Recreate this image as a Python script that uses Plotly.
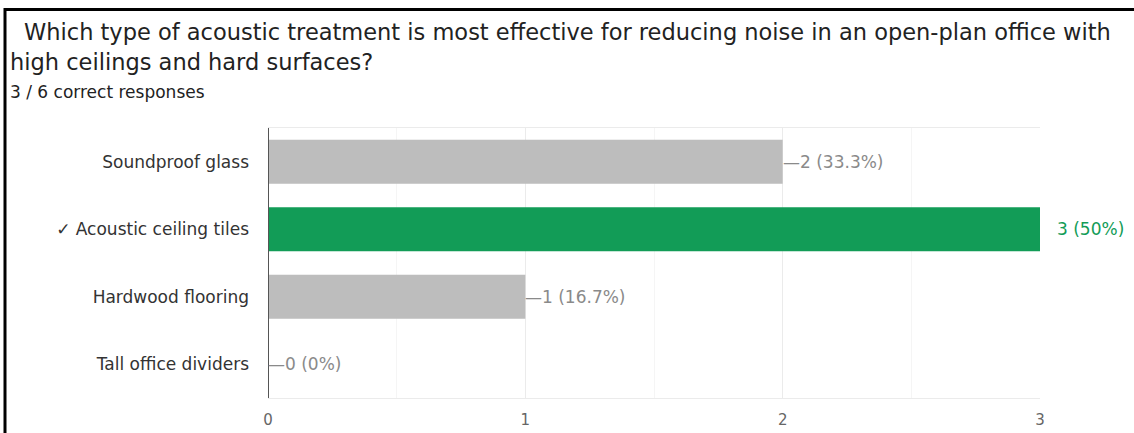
import plotly.graph_objects as go

categories = ["Soundproof glass", "✓ Acoustic ceiling tiles", "Hardwood flooring", "Tall office dividers"]
counts = [2, 3, 1, 0]
percents = ["33.3%", "50%", "16.7%", "0%"]
correct = [False, True, False, False]
x_ticks = [0, 1, 2, 3]
title_line1 = "Which type of acoustic treatment is most effective for reducing noise in an open-plan office with"
title_line2 = "high ceilings and hard surfaces?"
subtitle = "3 / 6 correct responses"

W, H = 1134, 433
L, R, T, B = 268, 94, 128, 35
pw, ph = W - L - R, H - T - B

def px(x):
    return (x - L) / pw

def py(y):
    return (H - B - y) / ph

GRAY = "#bdbdbd"
GREEN = "#129c57"
FONT = "DejaVu Sans"

fig = go.Figure()
fig.add_trace(go.Bar(
    y=categories, x=counts, orientation="h",
    marker=dict(color=[GREEN if c else GRAY for c in correct], line=dict(width=0)),
    width=0.65, hoverinfo="skip",
))

annotations = []
for cat, c, p, ok in zip(categories, counts, percents, correct):
    if ok:
        annotations.append(dict(x=c, y=cat, xref="x", yref="y", text=f"{c} ({p})",
                                showarrow=False, xanchor="left", yanchor="middle", xshift=15,
                                font=dict(family=FONT, size=17, color=GREEN)))
    else:
        annotations.append(dict(x=c, y=cat, xref="x", yref="y", text=f"—{c} ({p})",
                                showarrow=False, xanchor="left", yanchor="middle", xshift=-2,
                                font=dict(family=FONT, size=17, color="#8a8a8a")))

annotations += [
    dict(x=px(22), y=py(32), xref="paper", yref="paper", text=title_line1, showarrow=False,
         xanchor="left", yanchor="middle", font=dict(family=FONT, size=22.5, color="#222222")),
    dict(x=px(8), y=py(62), xref="paper", yref="paper", text=title_line2, showarrow=False,
         xanchor="left", yanchor="middle", font=dict(family=FONT, size=22.5, color="#222222")),
    dict(x=px(8), y=py(92), xref="paper", yref="paper", text=subtitle, showarrow=False,
         xanchor="left", yanchor="middle", font=dict(family=FONT, size=17, color="#222222")),
]

shapes = [
    dict(type="line", xref="paper", yref="paper", x0=px(4), x1=px(W), y0=py(9.5), y1=py(9.5),
         line=dict(color="black", width=3)),
    dict(type="line", xref="paper", yref="paper", x0=px(5), x1=px(5), y0=py(8), y1=py(H),
         line=dict(color="black", width=3)),
]

fig.update_layout(
    template="none",
    width=W, height=H,
    margin=dict(l=L, r=R, t=T, b=B, pad=0),
    paper_bgcolor="white", plot_bgcolor="white",
    showlegend=False,
    annotations=annotations,
    shapes=shapes,
    xaxis=dict(range=[0, 3], tickvals=x_ticks, ticktext=[str(t) for t in x_ticks],
               showgrid=True, gridcolor="#ebebeb", gridwidth=1, zeroline=False,
               showline=True, mirror=True, linecolor="#ebebeb", linewidth=1,
               minor=dict(dtick=0.5, showgrid=True, gridcolor="#f5f5f5", ticks=""),
               tickfont=dict(family=FONT, size=15, color="#666666"),
               ticks="", ticklabelstandoff=8, fixedrange=True, automargin=False),
    yaxis=dict(categoryorder="array", categoryarray=categories, autorange="reversed",
               showgrid=False, zeroline=False, showline=False,
               tickfont=dict(family=FONT, size=17, color="#333333"),
               ticks="", ticklabelstandoff=18, fixedrange=True, automargin=False),
)
fig.add_shape(type="line", xref="x", yref="paper", x0=0, x1=0, y0=0, y1=1,
              line=dict(color="#555555", width=2))

fig.write_html("out.html", config={"displayModeBar": False},
               post_script="document.body.style.margin='0';document.body.style.overflow='hidden';")
